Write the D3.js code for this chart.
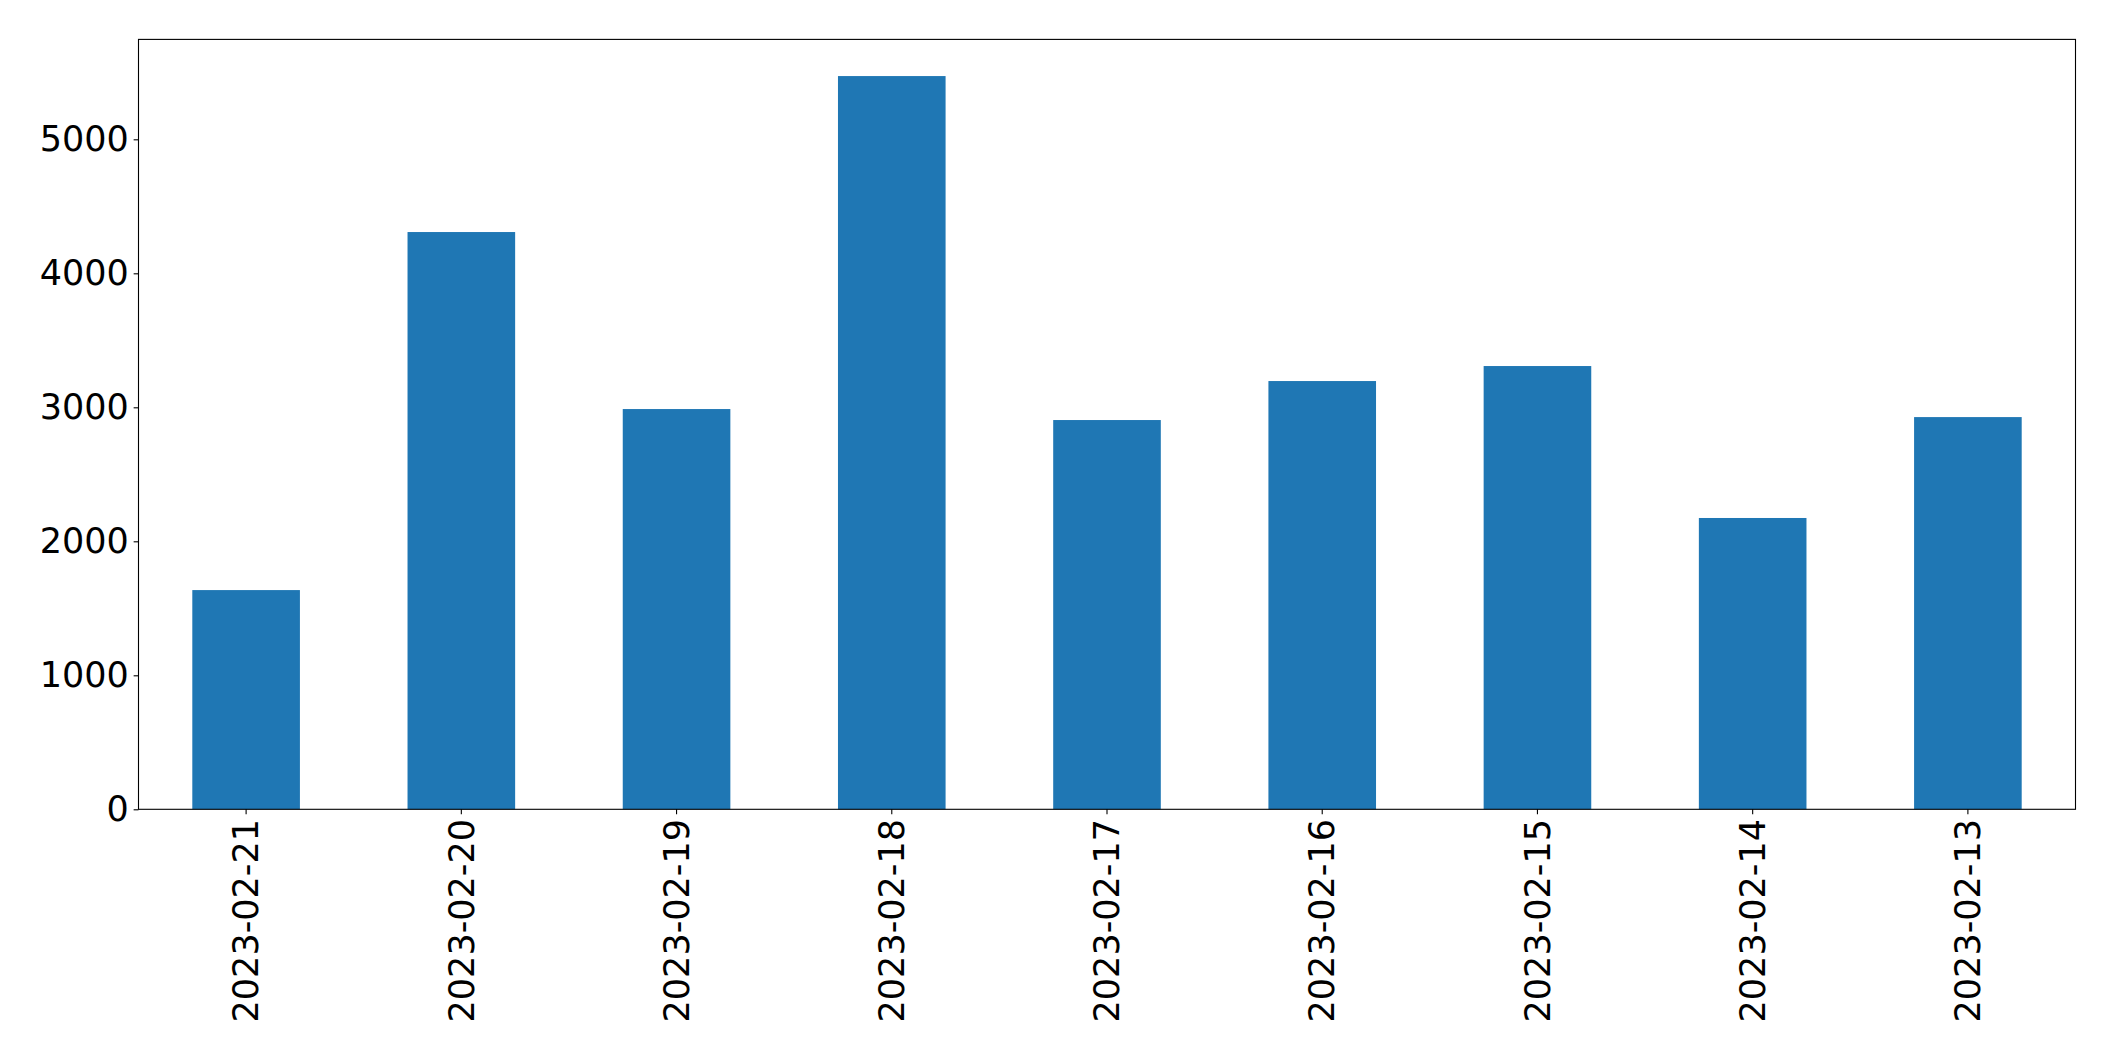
<!DOCTYPE html>
<html>
<head>
<meta charset="utf-8">
<script src="https://cdn.jsdelivr.net/npm/d3@7"></script>
<style>
  html, body { margin: 0; padding: 0; background: #fff; }
  svg { display: block; }
  text { font-family: "DejaVu Sans", sans-serif; }
</style>
</head>
<body>
<svg id="chart" width="2115" height="1061"></svg>
<script>
const categories = ["2023-02-21", "2023-02-20", "2023-02-19", "2023-02-18", "2023-02-17", "2023-02-16", "2023-02-15", "2023-02-14", "2023-02-13"];
const values = [1636, 4308, 2987, 5472, 2905, 3196, 3308, 2174, 2927];
const yTicks = [0, 1000, 2000, 3000, 4000, 5000];

const W = 2115, H = 1061;
const margin = { left: 138.5, right: W - 2075.5, top: 39.4, bottom: H - 809.3 };
const svg = d3.select("#chart");

const x = d3.scaleBand()
  .domain(categories)
  .range([margin.left, W - margin.right])
  .paddingInner(0.5)
  .paddingOuter(0.25);

const yMax = d3.max(values) * 1.05;
const y = d3.scaleLinear()
  .domain([0, yMax])
  .range([H - margin.bottom, margin.top]);

// bars
svg.append("g")
  .selectAll("rect")
  .data(values)
  .join("rect")
  .attr("x", (d, i) => x(categories[i]))
  .attr("width", x.bandwidth())
  .attr("y", d => y(d))
  .attr("height", d => y(0) - y(d))
  .attr("fill", "#1f77b4");

const tickLen = 4.86, pad = 4.86, fs = 35;

// y axis
const yAxis = d3.axisLeft(y)
  .tickValues(yTicks)
  .tickFormat(d3.format("d"))
  .tickSize(tickLen)
  .tickPadding(pad);
const gy = svg.append("g")
  .attr("transform", `translate(${margin.left},0)`)
  .call(yAxis);
gy.select(".domain").remove();
gy.selectAll("line").attr("stroke", "#000").attr("stroke-width", 1.1);
gy.selectAll("text")
  .attr("font-size", fs)
  .attr("fill", "#000")
  .attr("font-family", "DejaVu Sans, sans-serif");

// x axis
const xAxis = d3.axisBottom(x)
  .tickSize(tickLen)
  .tickPadding(pad);
const gx = svg.append("g")
  .attr("transform", `translate(0,${H - margin.bottom})`)
  .call(xAxis);
gx.select(".domain").remove();
gx.selectAll("line").attr("stroke", "#000").attr("stroke-width", 1.1);
gx.selectAll("text")
  .attr("font-size", fs)
  .attr("fill", "#000")
  .attr("font-family", "DejaVu Sans, sans-serif")
  .attr("x", 0)
  .attr("y", 0)
  .attr("dy", "0.35em")
  .attr("text-anchor", "end")
  .attr("transform", `translate(0,${tickLen + pad}) rotate(-90)`);

// frame
svg.append("rect")
  .attr("x", margin.left)
  .attr("y", margin.top)
  .attr("width", W - margin.right - margin.left)
  .attr("height", H - margin.bottom - margin.top)
  .attr("fill", "none")
  .attr("stroke", "#000")
  .attr("stroke-width", 1.1);
</script>
</body>
</html>
